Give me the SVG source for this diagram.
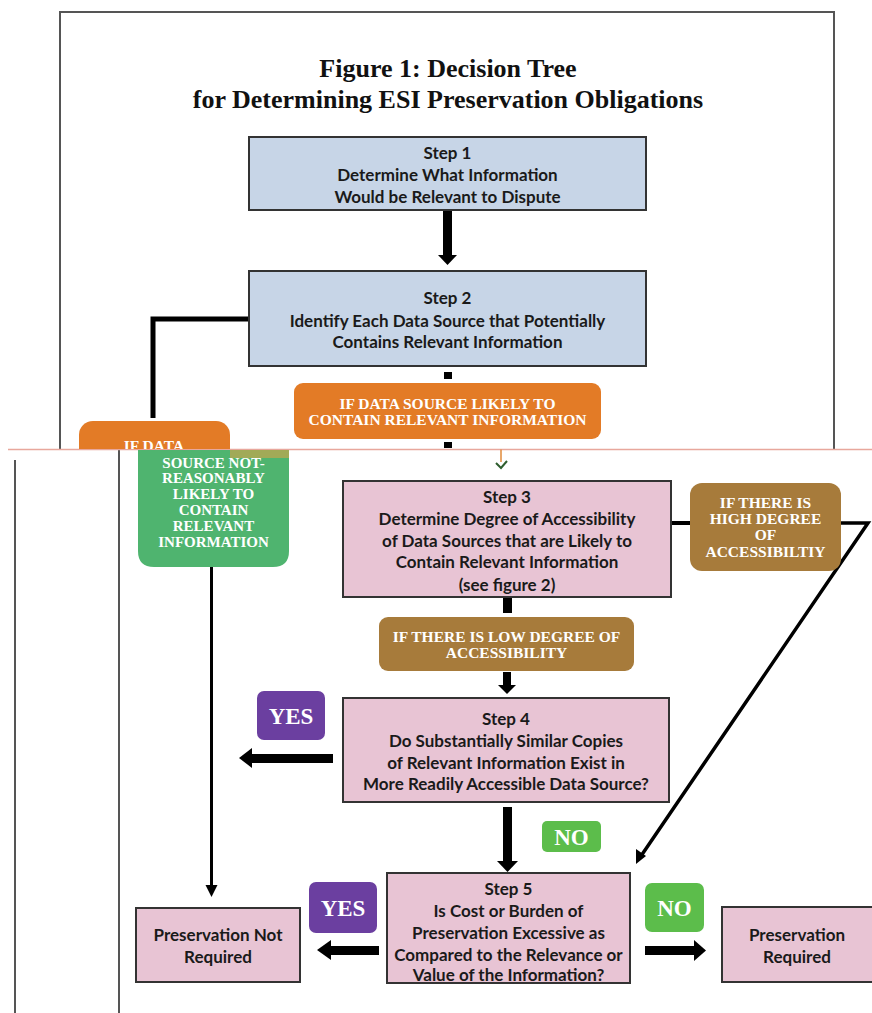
<svg xmlns="http://www.w3.org/2000/svg" width="872" height="1013" viewBox="0 0 872 1013">
<defs>
<style>
.title{font-family:"Liberation Serif","Times New Roman",serif;font-weight:bold;font-size:26px;fill:#111;text-anchor:middle}
.step{font-family:Lato,"Liberation Sans",sans-serif;font-weight:bold;font-size:17px;fill:#1a1a1a;text-anchor:middle}
.lbl{font-family:"Liberation Serif","Times New Roman",serif;font-weight:bold;font-size:15.5px;fill:#fff;text-anchor:middle}
.lblg{font-family:"Liberation Serif","Times New Roman",serif;font-weight:bold;font-size:15px;fill:#fff;text-anchor:middle}
.big{font-family:"Liberation Serif","Times New Roman",serif;font-weight:bold;font-size:23px;fill:#fff;text-anchor:middle}
.blue{fill:#c7d5e7;stroke:#333;stroke-width:2}
.pink{fill:#e8c4d4;stroke:#333;stroke-width:2}
.orange{fill:#e37b26}
.brown{fill:#a77b3b}
.purple{fill:#6b3fa0}
.lime{fill:#5cbd4b}
.green{fill:#4fb46f}
.frame{fill:none;stroke:#555;stroke-width:2}
.blk{fill:#000}
.ln{fill:none;stroke:#000}
</style>
<clipPath id="cut"><rect x="0" y="0" width="872" height="449"/></clipPath>
</defs>
<rect width="872" height="1013" fill="#fff"/>

<g id="frame">
<polyline class="frame" points="60,449 60,12 834,12 834,449"/>
<line class="frame" x1="15" y1="460" x2="15" y2="1013"/>
<line class="frame" x1="119" y1="449" x2="119" y2="1013"/>
<line x1="8" y1="449.5" x2="872" y2="449.5" stroke="#e8a79c" stroke-width="1.5"/>
</g>

<g id="title">
<text class="title" x="448" y="77">Figure 1:  Decision Tree</text>
<text class="title" x="448" y="108">for Determining ESI Preservation Obligations</text>
</g>

<g id="connectors">
<rect class="blk" x="443" y="210" width="9" height="46"/>
<polygon class="blk" points="438,255 457,255 447.5,265"/>
<polyline class="ln" stroke-width="5" points="249,319 153,319 153,418"/>
<rect class="blk" x="444" y="372" width="8" height="7"/>
<rect class="blk" x="444" y="442" width="8" height="6"/>
<polyline fill="none" stroke="#e08a3a" stroke-width="1.5" points="501,449.5 501,462"/>
<polyline fill="none" stroke="#2f5e2f" stroke-width="2" points="496,463 501,468 507,461"/>
<rect class="blk" x="503" y="597" width="9" height="16"/>
<rect class="blk" x="503" y="672" width="8" height="14"/>
<polygon class="blk" points="498,685 516,685 507,694"/>
<line class="ln" stroke-width="4" x1="671" y1="523" x2="690" y2="523"/>
<polyline class="ln" stroke-width="3.5" points="841,523 868,523 641,856"/>
<polygon class="blk" points="636,864 636,849 646,856"/>
<rect class="blk" x="251" y="754" width="82" height="9"/>
<polygon class="blk" points="252,748 252,768 239,758"/>
<rect class="blk" x="503" y="807" width="9" height="55"/>
<polygon class="blk" points="497,861 518,861 507.5,872"/>
<line class="ln" stroke-width="3" x1="211.5" y1="567" x2="211.5" y2="886"/>
<polygon class="blk" points="205.5,885 217.5,885 211.5,897"/>
<rect class="blk" x="330" y="946" width="49" height="9"/>
<polygon class="blk" points="331,940 331,960 317,950"/>
<rect class="blk" x="645" y="946" width="52" height="9"/>
<polygon class="blk" points="694,940 694,961 706,950.5"/>
</g>

<g id="step1">
<rect class="blue" x="249" y="137" width="397" height="73"/>
<text class="step" x="447.5" y="159">Step 1</text>
<text class="step" x="447.5" y="181">Determine What Information</text>
<text class="step" x="447.5" y="203">Would be Relevant to Dispute</text>
</g>

<g id="step2">
<rect class="blue" x="249" y="271" width="397" height="95"/>
<text class="step" x="447.5" y="304">Step 2</text>
<text class="step" x="447.5" y="327">Identify Each Data Source that Potentially</text>
<text class="step" x="447.5" y="348">Contains Relevant Information</text>
</g>

<g id="likely">
<rect class="orange" x="294" y="383" width="307" height="56" rx="9"/>
<text class="lbl" x="447.5" y="409">IF DATA SOURCE LIKELY TO</text>
<text class="lbl" x="447.5" y="425">CONTAIN RELEVANT INFORMATION</text>
</g>

<g id="not-likely-top" clip-path="url(#cut)">
<rect class="orange" x="79" y="421" width="151" height="60" rx="14"/>
<text class="lbl" x="154" y="451">IF DATA</text>
</g>

<g id="not-likely">
<path class="green" d="M138,450 H289 V551 Q289,567 273,567 H154 Q138,567 138,551 Z"/>
<rect x="230" y="450" width="59" height="8" fill="#d9a447" opacity="0.6"/>
<text class="lblg" x="213.5" y="468">SOURCE NOT-</text>
<text class="lblg" x="213.5" y="483">REASONABLY</text>
<text class="lblg" x="213.5" y="499">LIKELY TO</text>
<text class="lblg" x="213.5" y="515">CONTAIN</text>
<text class="lblg" x="213.5" y="531">RELEVANT</text>
<text class="lblg" x="213.5" y="547">INFORMATION</text>
</g>

<g id="step3">
<rect class="pink" x="343" y="481" width="328" height="116"/>
<text class="step" x="507" y="503">Step 3</text>
<text class="step" x="507" y="525">Determine Degree of Accessibility</text>
<text class="step" x="507" y="547">of Data Sources that are Likely to</text>
<text class="step" x="507" y="568">Contain Relevant Information</text>
<text class="step" x="507" y="591">(see figure 2)</text>
</g>

<g id="high-access">
<rect class="brown" x="690" y="483" width="151" height="88" rx="12"/>
<text class="lbl" x="765.5" y="508">IF THERE IS</text>
<text class="lbl" x="765.5" y="524">HIGH DEGREE</text>
<text class="lbl" x="765.5" y="540">OF</text>
<text class="lbl" x="765.5" y="557">ACCESSIBILTIY</text>
</g>

<g id="low-access">
<rect class="brown" x="379" y="617" width="255" height="54" rx="9"/>
<text class="lbl" x="506.5" y="642">IF THERE IS LOW DEGREE OF</text>
<text class="lbl" x="506.5" y="658">ACCESSIBILITY</text>
</g>

<g id="step4">
<rect class="pink" x="343" y="698" width="326" height="104"/>
<text class="step" x="506" y="725">Step 4</text>
<text class="step" x="506" y="747">Do Substantially Similar Copies</text>
<text class="step" x="506" y="769">of Relevant Information Exist in</text>
<text class="step" x="506" y="790">More Readily Accessible Data Source?</text>
</g>

<g id="yes1">
<rect class="purple" x="257" y="691" width="68" height="49" rx="7"/>
<text class="big" x="291" y="724">YES</text>
</g>

<g id="no1">
<rect class="lime" x="542" y="821" width="59" height="31" rx="5"/>
<text class="big" x="571.5" y="845">NO</text>
</g>

<g id="step5">
<rect class="pink" x="387" y="873" width="243" height="110"/>
<text class="step" x="508.5" y="895">Step 5</text>
<text class="step" x="508.5" y="917">Is Cost or Burden of</text>
<text class="step" x="508.5" y="939">Preservation Excessive as</text>
<text class="step" x="508.5" y="961">Compared to the Relevance or</text>
<text class="step" x="508.5" y="981">Value of the Information?</text>
</g>

<g id="yes2">
<rect class="purple" x="309" y="882" width="68" height="51" rx="7"/>
<text class="big" x="343" y="916">YES</text>
</g>

<g id="no2">
<rect class="lime" x="645" y="883" width="59" height="49" rx="7"/>
<text class="big" x="674.5" y="916">NO</text>
</g>

<g id="not-required">
<rect class="pink" x="136" y="908" width="164" height="74"/>
<text class="step" x="218" y="941">Preservation Not</text>
<text class="step" x="218" y="963">Required</text>
</g>

<g id="required">
<rect class="pink" x="722" y="907" width="152" height="75"/>
<text class="step" x="797" y="941">Preservation</text>
<text class="step" x="797" y="963">Required</text>
</g>
</svg>
